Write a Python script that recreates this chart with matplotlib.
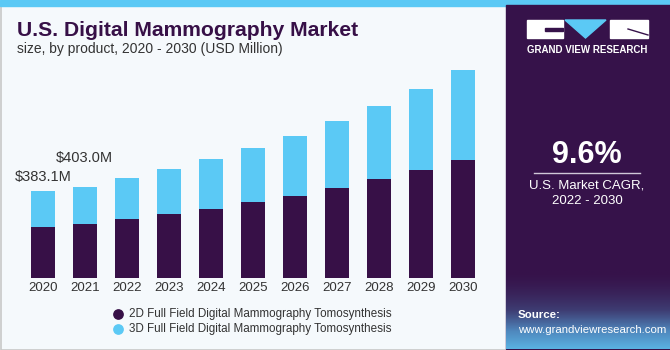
import numpy as np
import matplotlib
matplotlib.use("Agg")
import matplotlib.pyplot as plt
from matplotlib.patches import Rectangle, Polygon

years = [2020, 2021, 2022, 2023, 2024, 2025, 2026, 2027, 2028, 2029, 2030]
full_2d = [226.5, 238.4, 259.0, 282.3, 304.2, 333.6, 361.3, 396.4, 435.9, 475.4, 520.7]
full_3d = [156.6, 164.6, 181.3, 197.5, 220.8, 237.1, 264.7, 292.8, 321.8, 354.3, 393.7]
labels = ["$383.1M", "$403.0M"]
series_names = ["2D Full Field Digital Mammography Tomosynthesis",
                "3D Full Field Digital Mammography Tomosynthesis"]

DARK = "#371047"
BLUE = "#5BC9F5"
BG = "#F5F9FC"
PANEL = "#36124A"

W, H = 670, 350
plt.rcParams['font.family'] = ['Liberation Sans', 'DejaVu Sans']

fig = plt.figure(figsize=(W / 100, H / 100), dpi=100)
fig.patch.set_facecolor(BG)

def fx(x):
    return x / W

def fy(y):
    return 1 - y / H

# background frame, top stripe, right panel
bg = fig.add_axes([0, 0, 1, 1])
bg.set_xlim(0, W)
bg.set_ylim(H, 0)
bg.axis("off")
bg.add_patch(Rectangle((0, 0), W, 5.5, color=BLUE, zorder=2))
bg.add_patch(Rectangle((0.5, 5), W - 1, H - 5.5, fill=False, ec="#C8C8C8", lw=1.2, zorder=1))
bg.add_patch(Rectangle((506, 5), W - 506, H - 6, color=PANEL, zorder=2))

# bottom glow of the panel (dark at the top, light blue at the bottom)
grad = np.linspace(0, 1, 100)[:, None] ** 1.6
cmap = matplotlib.colors.LinearSegmentedColormap.from_list("g", [PANEL, "#3E3C72", "#4F88BE", "#5AB2E2"])
bg.imshow(grad, extent=(506, W, H - 1, 270), origin="upper", aspect="auto", cmap=cmap, zorder=3)

# logo
bg.add_patch(Rectangle((527, 20), 36, 18, color="white", zorder=4))
bg.add_patch(Rectangle((545, 28), 18, 2.5, color=PANEL, zorder=5))
bg.add_patch(Polygon([(565, 20), (606, 20), (585.5, 38)], color=BLUE, zorder=4))
bg.add_patch(Rectangle((610, 20), 38, 18, color="white", zorder=4))
bg.plot([628, 648], [29, 35], color=PANEL, lw=1, zorder=5)
bg.text(587.5, 50, "GRAND VIEW RESEARCH", color="white", fontsize=7, fontweight="bold",
        ha="center", va="center", zorder=6)

bg.text(587, 155, "9.6%", color="white", fontsize=22, fontweight="bold",
        ha="center", va="center", zorder=6)
bg.plot([534, 640], [173, 173], color="#D0C8D8", lw=1, zorder=6)
bg.text(587, 185, "U.S. Market CAGR,", color="white", fontsize=9.5, ha="center", va="center", zorder=6)
bg.text(587, 201, "2022 - 2030", color="white", fontsize=9.5, ha="center", va="center", zorder=6)
bg.text(518, 315, "Source:", color="white", fontsize=8.2, fontweight="bold", ha="left", va="center", zorder=6)
bg.text(518, 330, "www.grandviewresearch.com", color="white", fontsize=8.2, ha="left", va="center", zorder=6)

# titles
bg.text(17, 30, "U.S. Digital Mammography Market", color=DARK, fontsize=15.2,
        fontweight="heavy", ha="left", va="center")
bg.text(17, 49, "size, by product, 2020 - 2030 (USD Million)", color="#333333",
        fontsize=10, ha="left", va="center")

# bar chart
base_px, top_px = 278.3, 60
left_px, right_px = 21.8, 483.8
ax = fig.add_axes([fx(left_px), fy(base_px), fx(right_px - left_px), (base_px - top_px) / H])
ax.set_facecolor("none")
x = np.arange(len(years))
ax.bar(x, full_2d, width=0.58, color=DARK, zorder=2)
ax.bar(x, full_3d, width=0.58, bottom=full_2d, color=BLUE, zorder=2)
ax.set_xlim(-0.5, len(years) - 0.5)
ax.set_ylim(0, (base_px - top_px) * 4.39)
ax.set_xticks(x)
ax.set_xticklabels([str(y) for y in years], fontsize=9.5, color="#333333")
ax.tick_params(axis="x", length=0, pad=3)
ax.set_yticks([])
for s in ax.spines.values():
    s.set_visible(False)

totals = [a + b for a, b in zip(full_2d, full_3d)]
ax.text(x[0], totals[0] + 62, labels[0], fontsize=10.5, color="#333333", ha="center", va="center")
ax.text(x[1], totals[1] + 125, labels[1], fontsize=10.5, color="#333333", ha="center", va="center")

# legend
for i, (name, col) in enumerate(zip(series_names, [DARK, BLUE])):
    yy = 313.5 + i * 15.5
    bg.scatter([118], [yy], s=45, color=col, zorder=4)
    bg.text(129, yy, name, fontsize=8.4, color="#333333", ha="left", va="center")

fig.savefig("out.png", dpi=100, facecolor=fig.get_facecolor())
